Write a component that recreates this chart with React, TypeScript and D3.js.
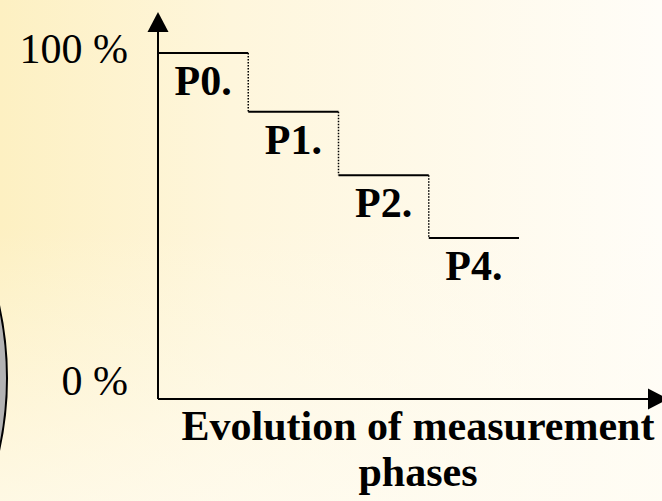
import React from 'react'
import * as d3 from 'd3'

const phases = ['P0.', 'P1.', 'P2.', 'P4.']
const levels = [100, 83, 64.7, 46.5]
const yTicks = [100, 0]
const yTickLabels = ['100 %', '0 %']
const xTitle = ['Evolution of measurement', 'phases']

const W = 662
const H = 501
const x0 = 158
const yBase = 399

export default function App() {
  const xScale = d3.scaleBand<string>().domain(phases).range([x0, 519]).padding(0)
  const yScale = d3.scaleLinear().domain([0, 100]).range([yBase, 53])
  const font = '"Liberation Serif", "Times New Roman", serif'

  // flat segments and the dotted drops between them
  const segs = phases.map((p, i) => ({
    label: p,
    x1: xScale(p)!,
    x2: xScale(p)! + xScale.bandwidth(),
    y: yScale(levels[i]),
  }))

  return (
    <svg width={W} height={H} style={{ position: 'absolute', left: 0, top: 0 }}>
      <defs>
        <linearGradient id="bgH" x1="0" y1="0" x2="1" y2="0">
          <stop offset="0" stopColor="#fdf0c2" />
          <stop offset="0.35" stopColor="#fef6dc" />
          <stop offset="1" stopColor="#fffdf8" />
        </linearGradient>
        <linearGradient id="bgV" x1="0" y1="0" x2="0" y2="1">
          <stop offset="0.45" stopColor="#fffcf2" stopOpacity="0" />
          <stop offset="1" stopColor="#fffcf2" stopOpacity="0.7" />
        </linearGradient>
      </defs>
      <rect width={W} height={H} fill="url(#bgH)" />
      <rect width={W} height={H} fill="url(#bgV)" />

      <circle cx={7 - 334} cy={378} r={334} fill="#b3b3b3" stroke="#000" strokeWidth={2} />

      {/* axes */}
      <line x1={x0} y1={yBase} x2={x0} y2={30} stroke="#000" strokeWidth={2} />
      <path d={`M${x0 - 10.5},32 L${x0},12 L${x0 + 10.5},32 Z`} fill="#000" />
      <line x1={x0} y1={yBase} x2={650} y2={yBase} stroke="#000" strokeWidth={2} />
      <path d={`M648,${yBase - 10.5} L668,${yBase} L648,${yBase + 10.5} Z`} fill="#000" />

      {segs.map((s, i) => (
        <g key={s.label}>
          <line x1={s.x1} y1={s.y} x2={s.x2} y2={s.y} stroke="#000" strokeWidth={2} />
          {i < segs.length - 1 && (
            <line
              x1={s.x2}
              y1={s.y}
              x2={s.x2}
              y2={segs[i + 1].y}
              stroke="#000"
              strokeWidth={1.5}
              strokeDasharray="1.5,1.5"
            />
          )}
          <text
            x={(s.x1 + s.x2) / 2}
            y={s.y + 42}
            textAnchor="middle"
            fontFamily={font}
            fontWeight="bold"
            fontSize={42}
          >
            {s.label}
          </text>
        </g>
      ))}

      {yTicks.map((v, i) => (
        <text
          key={v}
          x={128}
          y={yScale(v) + (v === 100 ? 10 : -4)}
          textAnchor="end"
          fontFamily={font}
          fontSize={42}
        >
          {yTickLabels[i]}
        </text>
      ))}

      {xTitle.map((t, i) => (
        <text
          key={t}
          x={418}
          y={440 + i * 46}
          textAnchor="middle"
          fontFamily={font}
          fontWeight="bold"
          fontSize={42}
        >
          {t}
        </text>
      ))}
    </svg>
  )
}
